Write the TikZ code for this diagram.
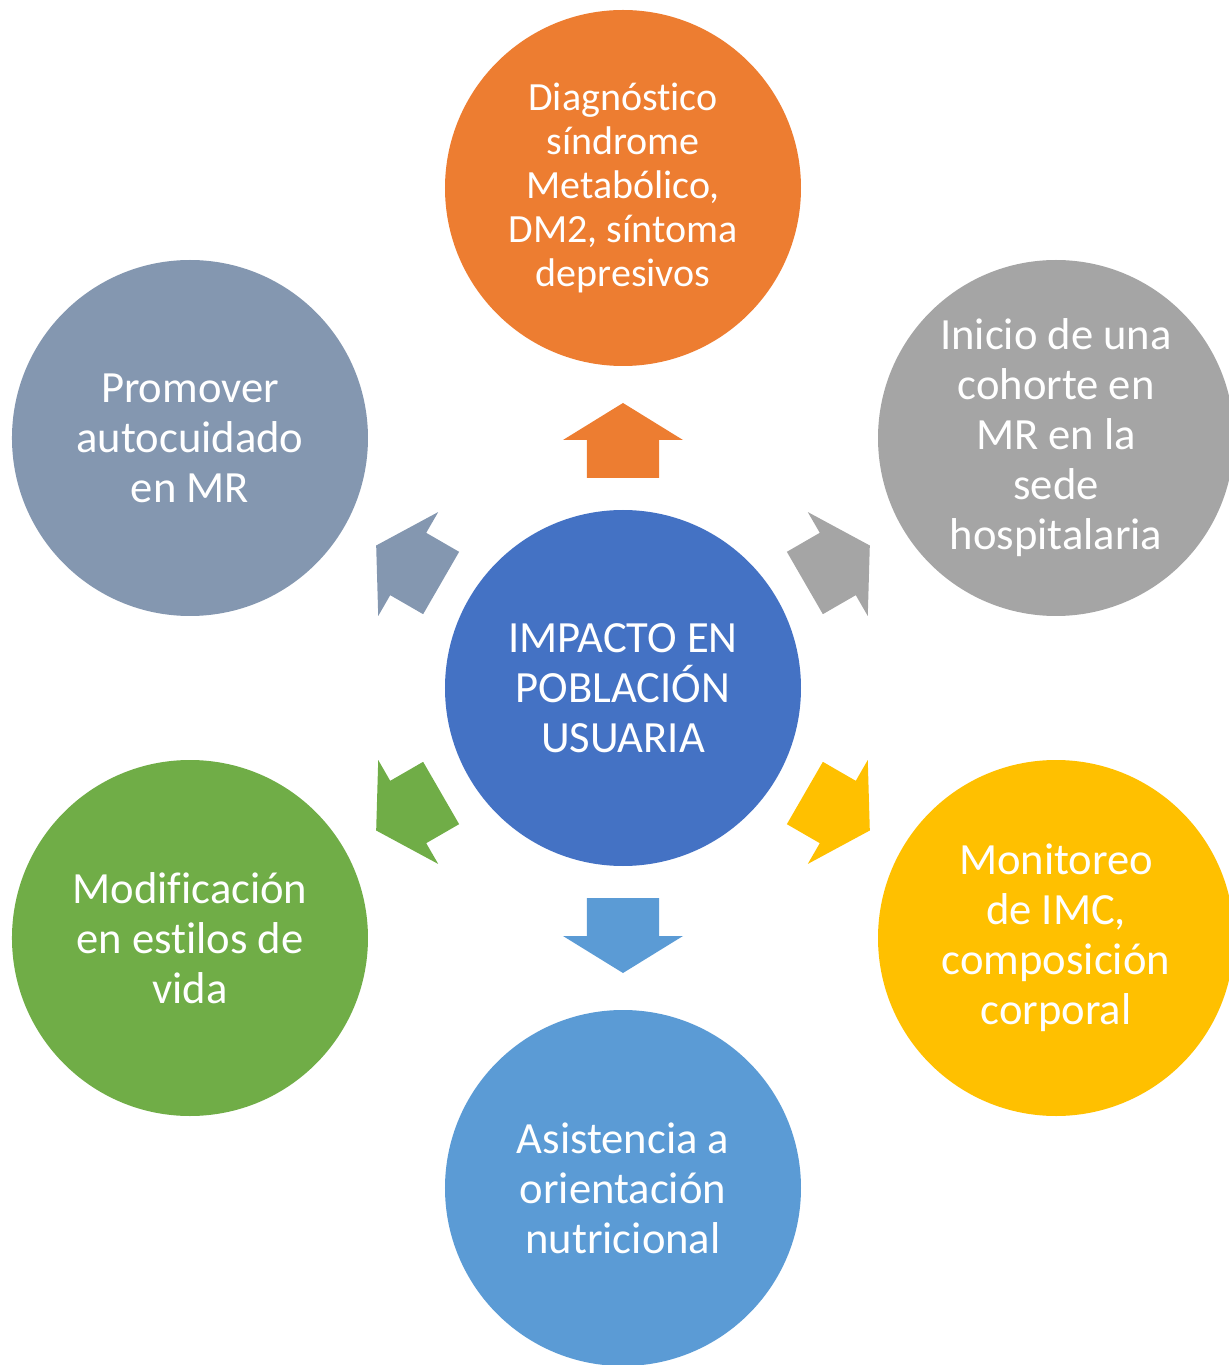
\documentclass[tikz,border=0pt]{standalone}
\usepackage{fontspec}
\setmainfont{Carlito}[Ligatures=NoCommon]
\usetikzlibrary{calc}

\definecolor{impblue}{HTML}{4472C4}
\definecolor{diagorange}{HTML}{ED7D31}
\definecolor{cohgray}{HTML}{A5A5A5}
\definecolor{monyellow}{HTML}{FFC000}
\definecolor{asisblue}{HTML}{5B9BD5}
\definecolor{estgreen}{HTML}{70AD47}
\definecolor{autoslate}{HTML}{8497B0}

\begin{document}
\begin{tikzpicture}
  [x=0.5pt,y=0.5pt,
   hub/.style={circle,fill=impblue,minimum size=178pt,inner sep=0pt,
     text=white,align=center,font=\fontsize{22.3}{25}\selectfont},
   spoke/.style={hub,fill=#1},
   small text/.style={font=\fontsize{20}{22}\selectfont},
   blockarrow/.pic={
     \path[pic actions] (-40,-36) -- (-2,-36) -- (-2,-60) -- (35,0)
       -- (-2,60) -- (-2,36) -- (-40,36) -- cycle;}]

  \useasboundingbox (-623,-677) rectangle (606,688);
  \clip (-623,-677) rectangle (606,688);

  % centre and the six surrounding circles
  \node [hub] (imp) at (0,0) {IMPACTO EN\\POBLACIÓN\\USUARIA};

  \node [spoke=diagorange,small text] (diag) at (90:500)
    {Diagnóstico\\síndrome\\Metabólico,\\DM2, síntoma\\depresivos};
  \node [spoke=cohgray]    (cohort)  at (30:500)
    {Inicio de una\\cohorte en\\MR en la\\sede\\hospitalaria};
  \node [spoke=monyellow]  (monitor) at (-30:500)
    {Monitoreo\\de IMC,\\composición\\corporal};
  \node [spoke=asisblue]   (asist)   at (-90:500)
    {Asistencia a\\orientación\\nutricional};
  \node [spoke=estgreen]   (estilo)  at (-150:500)
    {Modificación\\en estilos de\\vida};
  \node [spoke=autoslate]  (autoc)   at (150:500)
    {Promover\\autocuidado\\en MR};

  % block arrows half way between centre and each circle
  \pic [rotate=90,fill=diagorange]  at ($(imp)!0.5!(diag)$)    {blockarrow};
  \pic [rotate=30,fill=cohgray]     at ($(imp)!0.5!(cohort)$)  {blockarrow};
  \pic [rotate=-30,fill=monyellow]  at ($(imp)!0.5!(monitor)$) {blockarrow};
  \pic [rotate=-90,fill=asisblue]   at ($(imp)!0.5!(asist)$)   {blockarrow};
  \pic [rotate=-150,fill=estgreen]  at ($(imp)!0.5!(estilo)$)  {blockarrow};
  \pic [rotate=150,fill=autoslate]  at ($(imp)!0.5!(autoc)$)   {blockarrow};

\end{tikzpicture}
\end{document}
